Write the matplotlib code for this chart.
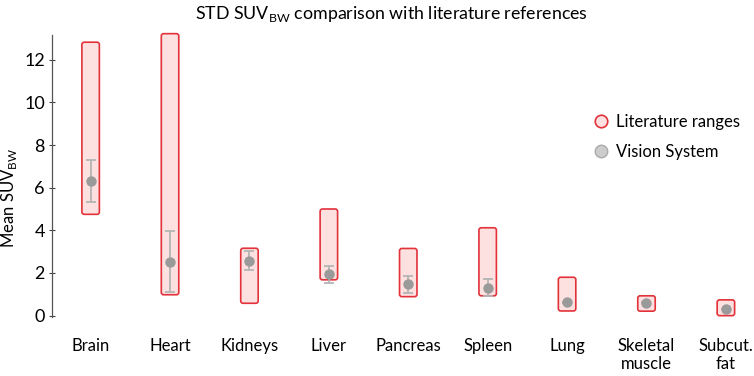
import matplotlib
matplotlib.use("Agg")
import matplotlib.pyplot as plt
import numpy as np
from matplotlib.patches import FancyBboxPatch
from matplotlib.lines import Line2D

plt.rcParams["font.family"] = ["Lato", "DejaVu Sans"]

# organ categories
organs = ["Brain", "Heart", "Kidneys", "Liver", "Pancreas", "Spleen", "Lung",
          "Skeletal\nmuscle", "Subcut.\nfat"]

# literature ranges (min, max)
lit_low = [4.75, 0.98, 0.58, 1.68, 0.89, 0.93, 0.22, 0.21, 0.0]
lit_high = [12.82, 13.22, 3.16, 5.0, 3.15, 4.12, 1.8, 0.93, 0.74]

# vision system mean and error bar ends
vis_mean = [6.3, 2.5, 2.58, 1.94, 1.5, 1.28, 0.62, 0.61, 0.3]
vis_low = [5.35, 1.12, 2.16, 1.51, 1.07, 0.9, 0.6, 0.6, 0.3]
vis_high = [7.3, 3.96, 3.03, 2.32, 1.87, 1.71, 0.65, 0.63, 0.32]

RED = "#e2323a"
PINK = "#fde0e0"
GRAY = "#9a9a9a"
ERR_GRAY = "#b4b4b4"

fig = plt.figure(figsize=(7.54, 3.76), dpi=100)
ax = fig.add_axes([0.0686, 0.152, 0.9314, 0.763])

x = np.arange(len(organs))
box_w = 0.22

# aspect between x and y data units in pixels, so box corners stay round
x_px = 79.4
y_px = 21.42
for xi, lo, hi in zip(x, lit_low, lit_high):
    patch = FancyBboxPatch(
        (xi - box_w / 2, lo), box_w, hi - lo,
        boxstyle="round,pad=0,rounding_size=0.03",
        mutation_aspect=x_px / y_px,
        facecolor=PINK, edgecolor=RED, linewidth=1.2, zorder=1,
    )
    ax.add_patch(patch)

yerr = np.array([np.array(vis_mean) - np.array(vis_low),
                 np.array(vis_high) - np.array(vis_mean)])
ax.errorbar(x, vis_mean, yerr=yerr, fmt="none", ecolor=ERR_GRAY,
            elinewidth=1.3, capsize=3.5, capthick=1.3, zorder=2)
ax.plot(x, vis_mean, "o", color=GRAY, markersize=7.5, markeredgewidth=0, zorder=3)

ax.set_xlim(-0.49, 8.354)
ax.set_ylim(-0.15, 13.3)
ax.set_yticks([0, 2, 4, 6, 8, 10, 12])
ax.set_xticks(x)
ax.set_xticklabels(organs, fontsize=12, va="top", linespacing=1.15)
ax.tick_params(axis="x", length=0, pad=14)
ax.tick_params(axis="y", labelsize=13, direction="inout", length=4, width=0.8,
               color="#444444", pad=3)

for side in ["top", "right", "bottom"]:
    ax.spines[side].set_visible(False)
ax.spines["left"].set_bounds(-0.05, 13.17)
ax.spines["left"].set_color("#555555")
ax.spines["left"].set_linewidth(0.9)

ax.set_ylabel("Mean SUV$_{\\mathregular{BW}}$", fontsize=12)
ax.yaxis.set_label_coords(-0.047, 0.42)
fig.suptitle("STD SUV$_{\\mathregular{BW}}$ comparison with literature references",
             fontsize=12.8, y=0.99, x=0.519)

handles = [
    Line2D([], [], linestyle="none", marker="o", markersize=9,
           markerfacecolor=PINK, markeredgecolor=RED, markeredgewidth=1.2),
    Line2D([], [], linestyle="none", marker="o", markersize=9,
           markerfacecolor="#cccccc", markeredgecolor="#aaaaaa", markeredgewidth=1.0),
]
fig.legend(handles, ["Literature ranges", "Vision System"], loc="upper left",
           bbox_to_anchor=(0.778, 0.715), frameon=False, fontsize=12,
           handlelength=0.9, handletextpad=0.45, labelspacing=0.85,
           borderaxespad=0)

fig.savefig("out.png", dpi=100)
